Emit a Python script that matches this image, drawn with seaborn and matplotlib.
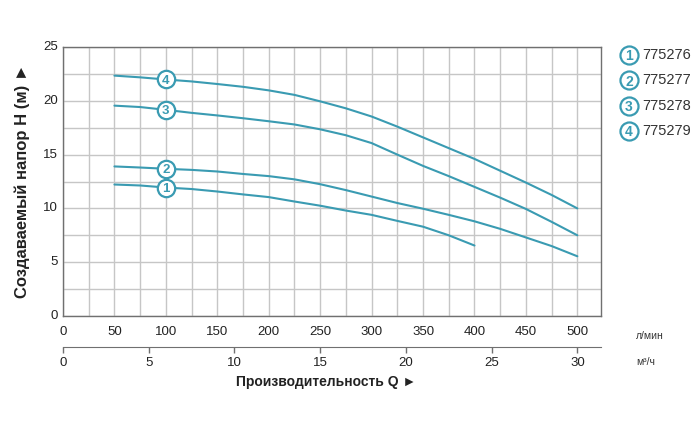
import numpy as np
import pandas as pd
import matplotlib
matplotlib.use("Agg")
import matplotlib.pyplot as plt
import seaborn as sns

# ---- data ----
flow_lpm = [50, 75, 100, 125, 150, 175, 200, 225, 250, 275,
            300, 325, 350, 375, 400, 425, 450, 475, 500]
head_775276 = [12.22, 12.13, 11.94, 11.8, 11.57, 11.3, 11.05, 10.64, 10.25, 9.8,
               9.4, 8.84, 8.3, 7.5, 6.55]
head_775277 = [13.9, 13.8, 13.68, 13.58, 13.43, 13.2, 13.0, 12.7, 12.25, 11.7,
               11.1, 10.5, 9.97, 9.4, 8.8, 8.1, 7.3, 6.5, 5.55]
head_775278 = [19.55, 19.42, 19.16, 18.88, 18.64, 18.38, 18.1, 17.8, 17.35, 16.8,
               16.07, 15.0, 13.95, 13.0, 12.0, 11.0, 9.95, 8.75, 7.5]
head_775279 = [22.34, 22.18, 21.98, 21.8, 21.56, 21.3, 20.97, 20.55, 19.95, 19.3,
               18.54, 17.6, 16.6, 15.6, 14.6, 13.5, 12.4, 11.25, 10.0]
models = ["775276", "775277", "775278", "775279"]
labels_num = ["1", "2", "3", "4"]
heads = [head_775276, head_775277, head_775278, head_775279]
x_ticks_lpm = [0, 50, 100, 150, 200, 250, 300, 350, 400, 450, 500]
x_ticks_m3h = [0, 5, 10, 15, 20, 25, 30]
y_ticks = [0, 5, 10, 15, 20, 25]
marker_x = 100

rows = []
for m, h in zip(models, heads):
    for xv, yv in zip(flow_lpm, h):
        rows.append({"Q": xv, "H": yv, "model": m})
df = pd.DataFrame(rows)

TEAL = "#3a9bb2"
sns.set_style("white")
plt.rcParams["font.family"] = ["Liberation Sans", "DejaVu Sans"]

fig = plt.figure(figsize=(7, 4.25), dpi=100)
W, H = 700, 425
L, R, T, B = 63, 601, 47, 316
ax = fig.add_axes([L / W, 1 - B / H, (R - L) / W, (B - T) / H])

sns.lineplot(data=df, x="Q", y="H", hue="model", palette=[TEAL] * 4,
             legend=False, ax=ax, linewidth=1.5, sort=True)

xmax = 523
ax.set_xlim(0, xmax)
ax.set_ylim(0, 25)
ax.set_xticks(np.arange(0, xmax, 25))
ax.set_yticks(np.arange(0, 25.01, 2.5))
ax.grid(True, color="#c6c6c6", linewidth=1.0)
ax.set_axisbelow(True)
ax.set_xticklabels([])
ax.set_yticklabels([])
ax.tick_params(length=0)
for s in ax.spines.values():
    s.set_color("#707070")
    s.set_linewidth(1.0)
ax.set_xlabel("")
ax.set_ylabel("")

# tick labels
for v in x_ticks_lpm:
    ax.text(v, -0.9, str(v), ha="center", va="top", fontsize=9.5, color="#222222",
            transform=ax.transData)
for v in y_ticks:
    ax.text(-5, v, str(v), ha="right", va="center", fontsize=9.5, color="#222222",
            transform=ax.transData)

# circled markers on curves
for num, h in zip(labels_num, heads):
    yv = h[flow_lpm.index(marker_x)]
    ax.plot(marker_x, yv, "o", ms=12.5, mfc="white", mec=TEAL, mew=1.6, zorder=5)
    ax.text(marker_x, yv, num, ha="center", va="center_baseline", fontsize=9.5,
            fontweight="bold", color=TEAL, zorder=6)

# secondary m3/h axis
ax2 = fig.add_axes([L / W, 1 - 347 / H, (R - L) / W, 0.001])
ax2.set_xlim(0, xmax * 60 / 1000)
ax2.set_ylim(0, 1)
for k in ["top", "left", "right"]:
    ax2.spines[k].set_visible(False)
ax2.spines["bottom"].set_color("#707070")
ax2.set_yticks([])
ax2.set_xticks(x_ticks_m3h)
ax2.set_xticklabels([str(v) for v in x_ticks_m3h], fontsize=9.5, color="#222222")
ax2.tick_params(axis="x", bottom=True, length=4, width=1, color="#707070", pad=3)
ax2.patch.set_alpha(0)

fig.text(636 / W, 1 - 336 / H, "л/мин", fontsize=7.5, color="#333333", va="center")
fig.text(636 / W, 1 - 362 / H, "м³/ч", fontsize=7.5, color="#333333", va="center")

# axis titles
fig.text(326 / W, 1 - 382 / H, "Производительность Q ►", ha="center", va="center",
         fontsize=10, fontweight="bold", color="#222222")
fig.text(22 / W, 1 - 181 / H, "Создаваемый напор H (м) ►", ha="center", va="center",
         rotation=90, fontsize=12, fontweight="bold", color="#222222")

# legend on right
for i, (num, m) in enumerate(zip(labels_num, models)):
    yp = 1 - (55 + i * 25.3) / H
    fig.lines.append(plt.Line2D([629 / W], [yp], marker="o", ms=13, mfc="white",
                                mec=TEAL, mew=1.6, transform=fig.transFigure))
    fig.text(629 / W, yp, num, ha="center", va="center_baseline", fontsize=10,
             fontweight="bold", color=TEAL)
    fig.text(642 / W, yp, m, ha="left", va="center", fontsize=10.5, color="#333333")

fig.savefig("out.png", dpi=100)
